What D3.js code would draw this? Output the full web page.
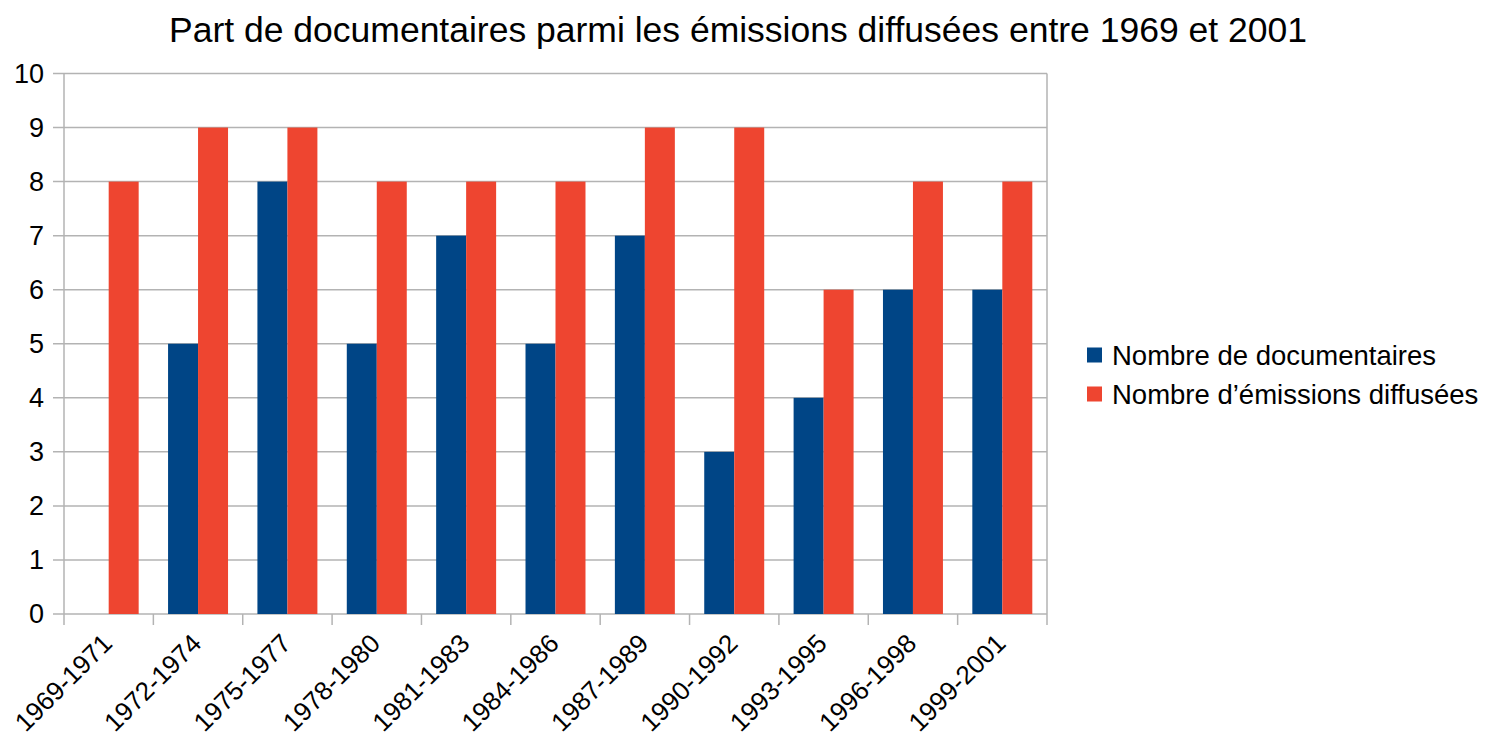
<!DOCTYPE html>
<html>
<head>
<meta charset="utf-8">
<script src="https://cdn.jsdelivr.net/npm/d3@7"></script>
<style>
  body { margin: 0; background: #fff; }
  text { font-family: "Liberation Sans", Arial, sans-serif; fill: #000; }
</style>
</head>
<body>
<svg id="chart"></svg>
<script>
const categories = ['1969-1971', '1972-1974', '1975-1977', '1978-1980', '1981-1983', '1984-1986',
  '1987-1989', '1990-1992', '1993-1995', '1996-1998', '1999-2001'];
const documentaires = [0, 5, 8, 5, 7, 5, 7, 3, 4, 6, 6];
const emissions = [8, 9, 9, 8, 8, 8, 9, 9, 6, 8, 8];
const seriesNames = ['Nombre de documentaires', 'Nombre d\u2019émissions diffusées'];
const seriesColors = ['#004586', '#ee4530'];
const yTicks = [0, 1, 2, 3, 4, 5, 6, 7, 8, 9, 10];

const width = 1496;
const height = 739;
const plot = { left: 64, right: 1047, top: 73.5, bottom: 614 };

const svg = d3.select('#chart').attr('width', width).attr('height', height);

const x = d3.scaleBand().domain(categories).range([plot.left, plot.right]);
const inner = d3.scaleBand().domain([0, 1]).range([0, x.bandwidth()]).paddingOuter(0.49).paddingInner(0);
const y = d3.scaleLinear().domain([0, 10]).range([plot.bottom, plot.top]);

// title
svg.append('text')
  .attr('x', 738)
  .attr('y', 42)
  .attr('text-anchor', 'middle')
  .style('font-size', '35.5px')
  .text('Part de documentaires parmi les émissions diffusées entre 1969 et 2001');

// grid lines
svg.append('g').selectAll('line')
  .data(yTicks)
  .enter().append('line')
  .attr('x1', plot.left - 11)
  .attr('x2', plot.right)
  .attr('y1', d => y(d))
  .attr('y2', d => y(d))
  .attr('stroke', '#b3b3b3')
  .attr('stroke-width', 1.5);

// y labels
svg.append('g').selectAll('text')
  .data(yTicks)
  .enter().append('text')
  .attr('x', 44)
  .attr('y', d => y(d))
  .attr('dy', '0.35em')
  .attr('text-anchor', 'end')
  .style('font-size', '27px')
  .text(d => d);

// axis frame lines
svg.append('line')
  .attr('x1', plot.left).attr('x2', plot.left)
  .attr('y1', plot.top).attr('y2', plot.bottom + 11)
  .attr('stroke', '#b3b3b3').attr('stroke-width', 1.5);
svg.append('line')
  .attr('x1', plot.right).attr('x2', plot.right)
  .attr('y1', plot.top).attr('y2', plot.bottom + 11)
  .attr('stroke', '#b3b3b3').attr('stroke-width', 1.5);

// category boundary ticks
svg.append('g').selectAll('line')
  .data(categories.slice(1))
  .enter().append('line')
  .attr('x1', d => x(d)).attr('x2', d => x(d))
  .attr('y1', plot.bottom).attr('y2', plot.bottom + 11)
  .attr('stroke', '#b3b3b3').attr('stroke-width', 1.5);

// bars
const series = [documentaires, emissions];
series.forEach(function(values, s) {
  svg.append('g').selectAll('rect')
    .data(values)
    .enter().append('rect')
    .attr('x', (d, i) => x(categories[i]) + inner(s))
    .attr('width', inner.bandwidth())
    .attr('y', d => y(d))
    .attr('height', d => y(0) - y(d))
    .attr('fill', seriesColors[s]);
});

// x labels
svg.append('g').selectAll('text')
  .data(categories)
  .enter().append('text')
  .attr('text-anchor', 'end')
  .attr('transform', d => 'translate(' + (x(d) + x.bandwidth() / 2 + 5) + ',' + (plot.bottom + 31) + ') rotate(-45)')
  .style('font-size', '26px')
  .text(d => d);

// legend
const legend = svg.append('g').selectAll('g')
  .data(seriesNames)
  .enter().append('g')
  .attr('transform', (d, i) => 'translate(1087,' + (355 + i * 39) + ')');
legend.append('rect')
  .attr('x', 0).attr('y', -7.5)
  .attr('width', 15).attr('height', 15)
  .attr('fill', (d, i) => seriesColors[i]);
legend.append('text')
  .attr('x', 25)
  .attr('dy', '0.35em')
  .style('font-size', '27.5px')
  .text(d => d);
</script>
</body>
</html>
